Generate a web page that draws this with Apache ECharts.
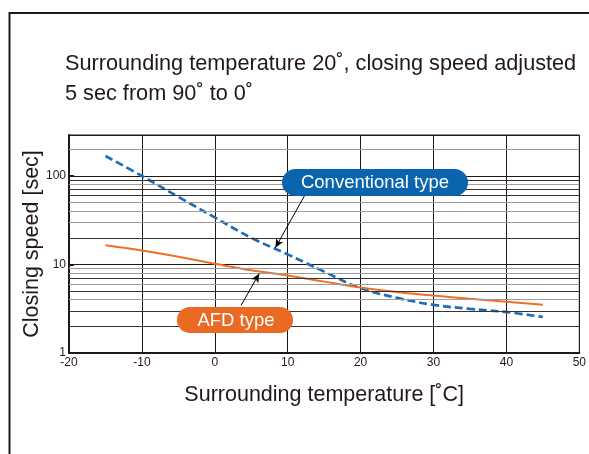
<!DOCTYPE html>
<html>
<head>
<meta charset="utf-8">
<script src="https://cdn.jsdelivr.net/npm/echarts@6.0.0/dist/echarts.min.js"></script>
<style>
	html, body { margin: 0; padding: 0; background: #fff; }
	#chart { width: 589px; height: 454px; }
</style>
</head>
<body>
<div id="chart"></div>
<script>
// temperatures (x) and closing speed in sec (y, log scale)
var temps = [-15, -10, -5, 0, 5, 10, 15, 20, 25, 30, 35, 40, 45];
var conventional = [168, 100, 58, 34, 20, 13, 8.3, 5.4, 4.2, 3.5, 3.15, 2.9, 2.55];
var afd = [16.5, 14.4, 12.2, 10.2, 8.6, 7.5, 6.4, 5.5, 4.9, 4.45, 4.1, 3.8, 3.5];

var xTicks = [-20, -10, 0, 10, 20, 30, 40, 50];
var yTicks = [1, 10, 100];
// minor grid lines of the log paper, dark ones marked with 1
var minorLines = [2, 3, 4, 5, 6, 7, 8, 9, 20, 30, 40, 50, 60, 70, 80, 90, 200];
var minorDark  = [1, 1, 0, 1, 0, 1, 0, 0, 1, 0, 0, 0, 1, 1, 0, 1, 0];

// arrow annotations in data coordinates: [from, to]
var convArrow = [[12.3, 59.6], [8.3, 15.4]];
var afdArrow = [[3.6, 3.45], [6.1, 7.9]];

var ink = '#231815';
var fontFam = '"Liberation Sans", Arial, sans-serif';

function pairs(xs, ys) {
	var res = [];
	xs.forEach(function (x, i) { res.push([x, ys[i]]); });
	return res;
}

var gridMarks = minorLines.map(function (v, i) {
	return {
		yAxis: v,
		lineStyle: { color: minorDark[i] ? '#3a3330' : '#a09c9b', width: 1, type: 'solid' }
	};
});

var option = {
	backgroundColor: '#fff',
	animation: false,
	title: {
		text: 'Surrounding temperature 20˚, closing speed adjusted\n5 sec from 90˚ to 0˚',
		left: 60,
		top: 44,
		textStyle: {
			fontFamily: fontFam,
			fontWeight: 'normal',
			fontSize: 21.7,
			lineHeight: 30,
			color: ink
		}
	},
	grid: {
		left: 69,
		right: 3,
		top: 135,
		bottom: 101,
		show: true,
		borderColor: ink,
		borderWidth: 1
	},
	xAxis: {
		type: 'value',
		min: -20,
		max: 50,
		interval: 10,
		name: 'Surrounding temperature [˚C]',
		nameLocation: 'middle',
		nameGap: 31,
		nameMoveOverlap: false,
		nameTextStyle: { fontFamily: fontFam, fontSize: 21.5, color: ink },
		axisLine: { show: true, onZero: false, lineStyle: { color: ink, width: 2 } },
		axisTick: { show: false },
		axisLabel: { fontFamily: fontFam, fontSize: 12, color: ink, margin: 4,
			formatter: function (v) { return xTicks.indexOf(v) >= 0 ? String(v) : ''; } },
		splitLine: { show: true, lineStyle: { color: ink, width: 1 } }
	},
	yAxis: {
		type: 'log',
		logBase: 10,
		min: 1,
		max: 290,
		name: 'Closing speed [sec]',
		nameLocation: 'middle',
		nameGap: 26,
		nameMoveOverlap: false,
		nameTextStyle: { fontFamily: fontFam, fontSize: 21.5, color: ink },
		axisLine: { show: true, onZero: false, lineStyle: { color: ink, width: 2 } },
		axisTick: { show: true, inside: true, length: 5, lineStyle: { color: ink, width: 2 } },
		axisLabel: {
			fontFamily: fontFam, fontSize: 12, color: ink, margin: 3, showMaxLabel: false,
			formatter: function (v) { return yTicks.indexOf(Math.round(v)) >= 0 ? String(Math.round(v)) : ''; }
		},
		splitLine: { show: true, lineStyle: { color: ink, width: 1 } }
	},
	series: [
		{
			name: 'grid',
			type: 'line',
			data: [],
			silent: true,
			markLine: {
				silent: true,
				symbol: 'none',
				label: { show: false },
				data: gridMarks
			},
			z: 1
		},
		{
			name: 'Conventional type',
			type: 'line',
			data: pairs(temps, conventional),
			smooth: 0.4,
			showSymbol: false,
			lineStyle: { color: '#1c6db7', width: 2.7, type: [8, 4] },
			markLine: {
				silent: true,
				symbol: ['none', 'arrow'],
				symbolSize: [6, 9],
				label: { show: false },
				lineStyle: { color: '#000', width: 1, type: 'solid' },
				data: [[{ coord: convArrow[0] }, { coord: convArrow[1] }]]
			},
			z: 3
		},
		{
			name: 'AFD type',
			type: 'line',
			data: pairs(temps, afd),
			smooth: 0.4,
			showSymbol: false,
			lineStyle: { color: '#ee7026', width: 2 },
			markLine: {
				silent: true,
				symbol: ['none', 'arrow'],
				symbolSize: [6, 9],
				label: { show: false },
				lineStyle: { color: '#000', width: 1, type: 'solid' },
				data: [[{ coord: afdArrow[0] }, { coord: afdArrow[1] }]]
			},
			z: 3
		}
	],
	graphic: [
		{
			type: 'polyline',
			shape: { points: [[9.5, 454], [9.5, 13], [589, 13]] },
			style: { stroke: ink, lineWidth: 2, fill: null },
			silent: true
		},
		{
			type: 'rect', z: 100, silent: true,
			shape: { x: 282, y: 169, width: 186, height: 27, r: 13.5 },
			style: { fill: '#0b64ae' }
		},
		{
			type: 'text', z: 101, silent: true, x: 375, y: 183,
			style: { text: 'Conventional type', fill: '#fff', font: '18.5px ' + fontFam, textAlign: 'center', textVerticalAlign: 'middle' }
		},
		{
			type: 'rect', z: 100, silent: true,
			shape: { x: 177, y: 307, width: 116, height: 26, r: 13 },
			style: { fill: '#ea6a24' }
		},
		{
			type: 'text', z: 101, silent: true, x: 236, y: 321,
			style: { text: 'AFD type', fill: '#fff', font: '18.5px ' + fontFam, textAlign: 'center', textVerticalAlign: 'middle' }
		}
	]
};

var myChart = echarts.init(document.getElementById('chart'), null, { renderer: 'canvas' });
myChart.setOption(option);
</script>
</body>
</html>
